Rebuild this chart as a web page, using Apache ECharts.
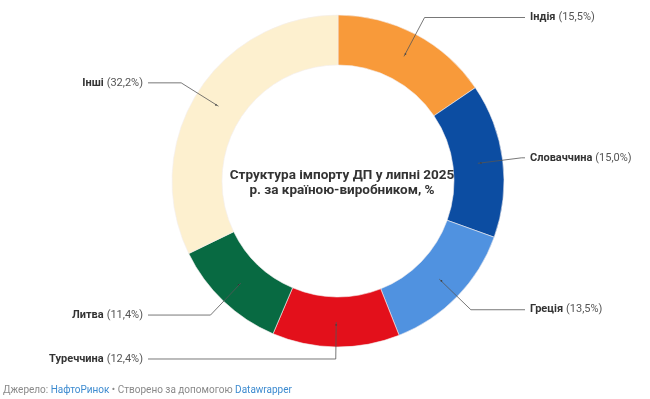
<!DOCTYPE html>
<html>
<head>
<meta charset="utf-8">
<script src="https://cdn.jsdelivr.net/npm/echarts@6/dist/echarts.min.js"></script>
<style>
  html, body { margin: 0; padding: 0; background: #fff; }
  #chart { width: 650px; height: 399px; }
</style>
</head>
<body>
<div id="chart"></div>
<script>
const countries = ["Індія", "Словаччина", "Греція", "Туреччина", "Литва", "Інші"];
const shares = [15.5, 15.0, 13.5, 12.4, 11.4, 32.2];
const colors = ["#F89A3A", "#0C4DA2", "#5092E0", "#E3101B", "#086A42", "#FDF0CF"];

const fmt = v => v.toFixed(1).replace(".", ",");

const cx = 338, cy = 181;
const lineStartR = 141;   // mid-ring
const lineLen = 44;       // radial part of the leader line
const rightEnd = 525, leftEnd = 148; // where the horizontal parts stop
const total = shares.reduce((a, b) => a + b, 0);

const ringData = countries.map((name, i) => ({
  name: name,
  value: shares[i],
  itemStyle: { color: colors[i] }
}));

// invisible pie whose edge sits at mid-ring: leader lines + labels only
let acc = 0;
const labelData = countries.map((name, i) => {
  const mid = (acc + shares[i] / 2) / total * Math.PI * 2;
  acc += shares[i];
  const len = name === "Туреччина" ? 37 : lineLen;
  const x2 = cx + (lineStartR + len) * Math.sin(mid);
  const left = Math.sin(mid) < 0;
  return {
    name: name,
    value: shares[i],
    labelLine: { length: len, length2: Math.max(2, left ? x2 - leftEnd : rightEnd - x2) }
  };
});

const chart = echarts.init(document.getElementById("chart"));
chart.setOption({
  backgroundColor: "#fff",
  animation: false,
  textStyle: { fontFamily: "Roboto" },
  title: {
    text: "Структура імпорту ДП у липні 2025\nр. за країною-виробником, %",
    left: 337,
    top: 163,
    textAlign: "center",
    textStyle: {
      fontFamily: "Roboto",
      fontSize: 13.5,
      fontWeight: "bold",
      color: "#333",
      lineHeight: 15
    }
  },
  graphic: [{
    type: "text",
    left: 3,
    top: 385,
    style: {
      text: "{g|Джерело: }{b|НафтоРинок}{g| • Створено за допомогою }{b|Datawrapper}",
      rich: {
        g: { fontFamily: "Roboto", fontSize: 10, fill: "#8a8a8a" },
        b: { fontFamily: "Roboto", fontSize: 10, fill: "#3d8bd0" }
      }
    }
  }],
  series: [
    {
      type: "pie",
      center: [cx, cy],
      radius: [116, 166],
      startAngle: 90,
      clockwise: true,
      silent: true,
      itemStyle: { borderColor: "#f4eeee", borderWidth: 0.6 },
      label: {
        show: true,
        position: "inside",
        formatter: "●",
        fontSize: 4,
        color: "#333"
      },
      labelLine: { show: false },
      data: ringData
    },
    {
      type: "pie",
      center: [cx, cy],
      radius: [0, lineStartR],
      startAngle: 90,
      clockwise: true,
      silent: true,
      avoidLabelOverlap: false,
      z: 5,
      itemStyle: { color: "rgba(0,0,0,0)" },
      label: {
        show: true,
        position: "outside",
        alignTo: "none",
        distanceToLabelLine: 5,
        formatter: p => "{n|" + p.name + "} {v|(" + fmt(p.value) + "%)}",
        rich: {
          n: { fontFamily: "Roboto", fontSize: 11, fontWeight: "bold", color: "#333" },
          v: { fontFamily: "Roboto", fontSize: 11, color: "#555" }
        }
      },
      labelLine: {
        show: true,
        lineStyle: { color: "#555", width: 0.8 }
      },
      data: labelData
    }
  ]
});
</script>
</body>
</html>
